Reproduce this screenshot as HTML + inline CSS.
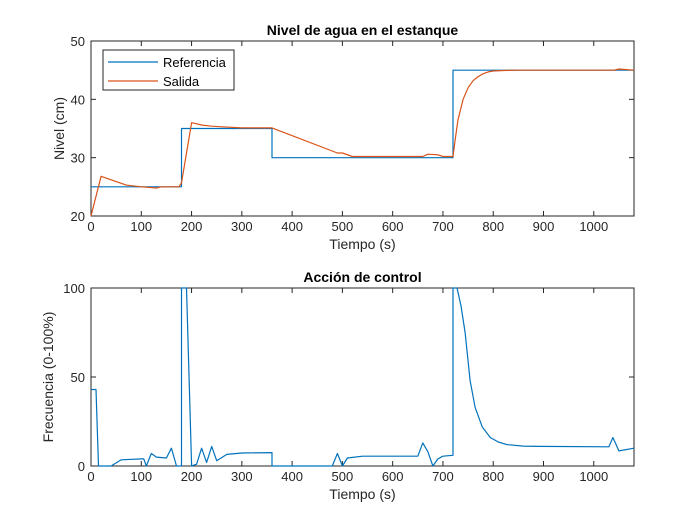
<!DOCTYPE html>
<html><head><meta charset="utf-8"><style>body{margin:0;background:#fff}svg text{font-family:"Liberation Sans",sans-serif}</style></head>
<body>
<svg id="c" width="700" height="525" xmlns="http://www.w3.org/2000/svg"></svg>
<script>
const refT=[0,180,180,360,360,720,720,1080];
const refV=[25,25,35,35,30,30,45,45];
const outT=[0,20,40,70,100,130,140,175,180,200,220,240,260,300,360,490,500,520,660,670,690,700,720,725,730,740,750,760,770,780,790,800,820,850,1040,1050,1080];
const outV=[20,26.8,26.2,25.3,25,24.8,25,25,25.7,36,35.6,35.4,35.3,35.1,35.1,30.8,30.8,30.2,30.2,30.6,30.5,30.2,30.2,33.5,36.5,40,42,43.2,43.9,44.4,44.7,44.85,44.95,45,45,45.2,45];
const ctlT=[0,10,15,40,60,100,105,110,120,130,150,160,170,180,180,190,200,210,220,230,240,250,270,300,360,360,480,490,500,510,540,650,660,670,680,690,700,720,720,728,736,744,754,764,778,794,810,827,860,893,1030,1038,1050,1080];
const ctlV=[43,43,0,0,3.5,4,4,0,7,5,4.5,10,0,0,100,100,0,1,10,2,11,3,6.5,7.3,7.5,0,0,7,0,4.5,5.5,5.5,13,8,0,4,5.5,6,100,100,90,75,48,33,22,16,13.5,12,11.2,11,10.8,16,8.5,10];
const xTicks=[0,100,200,300,400,500,600,700,800,900,1000];
const topYTicks=[20,30,40,50];
const botYTicks=[0,50,100];
const svg=document.getElementById('c');
const NS='http://www.w3.org/2000/svg';
function mk(tag,attrs,parent){const e=document.createElementNS(NS,tag);for(const k in attrs)e.setAttribute(k,attrs[k]);(parent||svg).appendChild(e);return e;}
const X0=91,X1=634;
const xs=v=>X0+(v/1080)*(X1-X0);
function axes(top,bot,ymin,ymax,yticks,title,ylabel,pfx){
  const ys=v=>bot-(v-ymin)/(ymax-ymin)*(bot-top);
  const g=mk('g',{});
  
  
  mk('rect',{x:X0,y:top,width:X1-X0,height:bot-top,fill:'#fff',stroke:'#262626','stroke-width':1},g);
  xTicks.forEach(t=>{const x=xs(t);mk('line',{x1:x,x2:x,y1:bot,y2:bot-5,stroke:'#262626'},g);mk('line',{x1:x,x2:x,y1:top,y2:top+5,stroke:'#262626'},g);
    const tx=mk('text',{x:x,y:bot+15,'text-anchor':'middle','font-size':13,fill:'#262626'},g);tx.textContent=t;
    
    });
  yticks.forEach(t=>{const y=ys(t);mk('line',{x1:X0,x2:X0+5,y1:y,y2:y,stroke:'#262626'},g);mk('line',{x1:X1,x2:X1-5,y1:y,y2:y,stroke:'#262626'},g);
    const tx=mk('text',{x:X0-6,y:y+5,'text-anchor':'end','font-size':13,fill:'#262626'},g);tx.textContent=t;
    
    });
  const ti=mk('text',{x:(X0+X1)/2,y:top-6,'text-anchor':'middle','font-size':14,'font-weight':'bold',fill:'#000'});ti.textContent=title;
  
  
  const xl=mk('text',{x:(X0+X1)/2,y:bot+33,'text-anchor':'middle','font-size':14,fill:'#262626'});xl.textContent='Tiempo (s)';
  
  
  const cy=(top+bot)/2;
  const lx=X0-27-(pfx==='bottom'?11:0);
  const yl=mk('text',{x:lx,y:cy,'text-anchor':'middle','font-size':14,fill:'#262626',transform:`rotate(-90 ${lx} ${cy})`});yl.textContent=ylabel;
  
  
  return ys;
}
function line(T,V,ys,color,name){
  const d=T.map((t,i)=>(i?'L':'M')+xs(t).toFixed(1)+','+ys(V[i]).toFixed(1)).join('');
  const p=mk('path',{d:d,fill:'none',stroke:color,'stroke-width':1.2,'stroke-linejoin':'round'});
  
  
}
const ysT=axes(41,216,20,50,topYTicks,'Nivel de agua en el estanque','Nivel (cm)','top');
line(refT,refV,ysT,'#0072BD','reference-line');
line(outT,outV,ysT,'#D95319','output-line');
const ysB=axes(288,466,0,100,botYTicks,'Acción de control','Frecuencia (0-100%)','bottom');
line(ctlT,ctlV,ysB,'#0072BD','control-line');
const lg=mk('g',{});


mk('rect',{x:103,y:50,width:131,height:40,fill:'#fff',stroke:'#262626'},lg);
[['Referencia','#0072BD',62],['Salida','#D95319',81]].forEach(([n,c,y])=>{
  const e=mk('g',{},lg);
  
  
  mk('line',{x1:108,x2:158,y1:y,y2:y,stroke:c,'stroke-width':1.2},e);
  const t=mk('text',{x:163,y:y+5,'font-size':13,fill:'#000'},e);t.textContent=n;
});
</script>
</body></html>
